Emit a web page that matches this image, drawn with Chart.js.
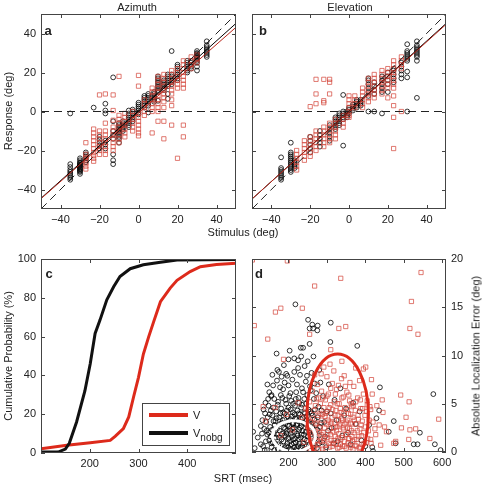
<!DOCTYPE html>
<html>
<head>
<meta charset="utf-8">
<style>
  body { margin: 0; background: #fff; }
  #fig { position: relative; width: 483px; height: 484px; font-family: "Liberation Sans", Arial, sans-serif; font-size: 11px; color: #222; overflow: hidden; }
  #fig canvas { position: absolute; }
  .lbl { position: absolute; white-space: nowrap; line-height: 1; transform: translate(-50%, -50%); }
  .rot { transform: translate(-50%, -50%) rotate(-90deg); }
  .tag { position: absolute; font-weight: bold; font-size: 13px; line-height: 1; transform: translate(-50%, -50%); }
  #legend { position: absolute; left: 142px; top: 403px; width: 86px; height: 41px; border: 1px solid #444; background: #fff; }
  #legend .bar { position: absolute; left: 6px; width: 39px; height: 4px; }
  #legend .txt { position: absolute; left: 50px; font-size: 11px; line-height: 1; }
  #legend sub { font-size: 10px; vertical-align: -4px; line-height: 0; }
</style>
</head>
<body>
<div id="fig">
  <canvas id="az" width="240" height="228" style="left:0;top:0"></canvas>
  <canvas id="el" width="243" height="228" style="left:240px;top:0"></canvas>
  <canvas id="cdf" width="240" height="244" style="left:0;top:240px"></canvas>
  <canvas id="err" width="243" height="244" style="left:240px;top:240px"></canvas>

  <div class="lbl" style="left:137px;top:7px">Azimuth</div>
  <div class="lbl" style="left:350px;top:7px">Elevation</div>
  <div class="lbl" style="left:243px;top:232px">Stimulus (deg)</div>
  <div class="lbl rot" style="left:8px;top:111px">Response (deg)</div>
  <div class="lbl rot" style="left:8px;top:356px">Cumulative Probability (%)</div>
  <div class="lbl" style="left:243px;top:478px">SRT (msec)</div>
  <div class="lbl rot" style="left:476px;top:356px">Absolute Localization Error (deg)</div>

  <div class="tag" style="left:48px;top:30px">a</div>
  <div class="tag" style="left:263px;top:30px">b</div>
  <div class="tag" style="left:49px;top:273px">c</div>
  <div class="tag" style="left:259px;top:273px">d</div>

  <div id="legend">
    <div class="bar" style="top:9px;background:#dd2a1b"></div>
    <div class="txt" style="top:6px">V</div>
    <div class="bar" style="top:27px;background:#111"></div>
    <div class="txt" style="top:24px">V<sub>nobg</sub></div>
  </div>
</div>

<script src="https://cdn.jsdelivr.net/npm/chart.js"></script>
<script>
// ---- data ----
const STIM_RANGE = [-50, 50];
const STIM_TICKS = [-40, -20, 0, 20, 40];

// azimuth, black circles (V nobg): stimulus positions and responses at each
const AZ_BLACK_STIM = [-35, -30, -27, -23, -20, -17, -13, -10, -8, -5, -3, 0, 3, 5, 8, 10, 13, 15, 17, 20, 25, 27, 30, 35];
const AZ_BLACK_RESP = [
  [-1, -27, -28.5, -30, -31, -32, -33, -34, -35],
  [-24, -25, -26, -26.5, -27, -27.5, -28, -28.5, -29, -29.5, -30, -30.5, -31, -32],
  [-21, -22, -23, -24, -25, -26],
  [2],
  [-13, -14.5, -16, -17.5, -19],
  [4, 0.5, -1, -15, -17, -19],
  [17.5, -5, -10, -12, -14, -22, -25, -27],
  [-6, -7, -8, -9, -10, -11, -12, -13, -14, -16],
  [-5, -6, -7, -8, -9, -10],
  [0.5, -1, -2, -3, -4, -5, -6, -7, -8],
  [1, 0, -1, -2, -3, -4, -5],
  [4.5, 3.5, 2.5, 1.5, 0.5, -0.5, -1.5],
  [2, 3, 4, 5, 6, 7, 8],
  [-0.5, 3, 4, 5, 6, 7, 8, 9],
  [5, 6, 7, 8, 9, 10],
  [5.5, 10, 11, 12, 13, 14, 15, 16, 17, 18],
  [11, 12, 13, 14, 15, 16],
  [6.5, 9, 13, 14, 15, 16, 17, 18, 19],
  [31, 14, 15, 16, 17, 18, 19],
  [16, 17, 18, 19, 20, 21, 22, 23, 24],
  [20, 21, 22, 23, 24, 25, 26],
  [22, 23, 24, 25, 26],
  [21, 23, 25, 26, 27, 27.5, 28, 28.5, 29, 29.5, 30, 31],
  [28, 29, 30, 31, 32, 33, 34, 36]
];
// azimuth, red squares (V)
const AZ_RED_STIM = [-27, -23, -20, -17, -13, -10, -7, -3, 0, 3, 7, 10, 13, 17, 20, 23, 27, 30];
const AZ_RED_RESP = [
  [-16, -22, -23.5, -25, -26.5, -28, -29.5],
  [-9, -11, -13, -15, -17, -19, -21, -22.5, -24, -25.5],
  [8.5, -10, -12, -14, -16, -18, -20, -22],
  [9, -6, -10, -12, -14, -16, -18, -20, -22],
  [8.5, 0.5, -4.5, -8, -10, -12, -14, -16, -18, -20],
  [18, -2, -4, -6, -8, -10, -12, -14, -16],
  [-1, -3, -5, -7, -9, -11, -13],
  [0, -2, -4, -6, -8, -10],
  [18.5, 13, -1, -3, -5, -7, -9, -11, -12.5],
  [-2, 0, 2, 4, 6],
  [-11, 0, 2, 4, 6, 8, 10, 12],
  [-5, 0, 2, 4, 6, 8, 10, 12, 14, 16, 18],
  [-14, -5, 2, 5, 7, 9, 11, 13, 15, 17, 19],
  [-7, 3, 6, 9, 11, 13, 15, 17, 19, 21],
  [-24, 12, 14, 16, 18, 20, 22],
  [-13, -7, 12, 14, 16, 18, 20, 22, 24, 26],
  [22, 24, 26, 28],
  [25, 27, 29]
];
const AZ_FIT_BLACK = [0.897, 0.35];   // slope, intercept
const AZ_FIT_RED = [0.879, -0.75];

// elevation
const EL_BLACK_STIM = [-35, -30, -28, -20, -15, -10, -7, -5, -3, -1, 0, 2, 4, 6, 10, 13, 17, 20, 23, 27, 30, 35];
const EL_BLACK_RESP = [
  [-23.5, -29, -30, -31, -32, -33, -34, -35],
  [-16, -21, -22, -23, -24, -25, -26, -27, -28, -29, -30, -31],
  [-25, -26, -27, -28, -29],
  [-13, -15, -17, -19, -21],
  [-10, -12, -14, -16, -18],
  [-7, -9, -11, -13, -15],
  [-3, -4, -5, -6, -7, -8, -9],
  [-1, -2, -3, -4, -5, -6, -7],
  [8.5, -17.5, 0, -1, -2, -3, -4],
  [0, -1, -2, -3],
  [-1, 0, 1, 2],
  [0.5, 1.5, 2.5, 3.5],
  [2, 3, 4, 5, 6],
  [3, 4, 5, 6],
  [0, 8, 10, 12, 14, 16, 17],
  [0, 9, 11, 13, 15],
  [-1, 10, 12, 14, 16, 18],
  [10, 14, 16, 18, 20],
  [15, 17, 19, 21, 22],
  [17, 19, 21, 23, 25],
  [0, 17.5, 20.5, 26, 27, 28, 29, 30, 31, 34.5],
  [7, 26, 28, 29, 30, 31, 32, 33, 34, 36]
];
const EL_RED_STIM = [-27, -23, -20, -17, -13, -10, -7, -3, 0, 3, 7, 10, 13, 17, 20, 23, 27];
const EL_RED_RESP = [
  [-20, -22, -24, -26, -28, -30],
  [-15, -17, -19, -21, -23, -25],
  [2.5, -13, -15, -17, -19, -21, -23],
  [16.5, 9, 4, -10, -12, -14, -16, -18, -20],
  [16.5, 5.5, 4.5, -8, -10, -12, -14, -16, -18],
  [16.5, 15, 9, -6, -8, -10, -12, -14, -16],
  [-4, -6, -8, -10, -12, -14],
  [-2, -4, -6, -8],
  [8, 6, 4, 2, 0, -2, -3],
  [2, 4, 6, 8],
  [2, 4, 6, 8, 10, 12],
  [5, 7, 9, 11, 13, 15, 17],
  [7, 9, 11, 13, 15, 17, 19],
  [9, 11, 13, 15, 17, 19, 21],
  [7, 12, 14, 16, 18, 20, 22],
  [-19, -3, 3, 8, 12, 14, 16, 18, 20, 22, 24, 26],
  [0, 22, 24, 26, 28]
];
const EL_FIT_BLACK = [0.9, 0.1];
const EL_FIT_RED = [0.895, -0.1];

// c: cumulative SRT distributions
const SRT_V = [100, 153, 201, 242, 252, 269, 280, 290, 300, 310, 321, 331, 345, 365, 379, 406, 427, 460, 500];
const CUM_V = [2.2, 4, 5.3, 6.5, 8.6, 12.6, 18.6, 29, 39, 51, 60, 67.6, 78, 85, 89, 93.5, 96, 97.2, 97.8];
const SRT_NOBG = [100, 135, 150, 158, 173, 190, 201, 211, 221, 235, 249, 262, 283, 310, 345, 379, 500];
const CUM_NOBG = [0.5, 0.5, 2, 5, 16, 32, 46, 61.6, 68.5, 79, 85.7, 91, 95, 97, 98.3, 99.5, 99.8];
const CDF_X_TICKS = [200, 300, 400];
const CDF_Y_TICKS = [0, 20, 40, 60, 80, 100];

// d: SRT vs absolute localization error, [srt, error]
const ERR_NOBG = [
  [218,15.3],[251,13.7],[262,13.2],[264,12.8],[310,13.4],[275,12.6],[276,13.1],[255,12.8],[232,10.8],[238,10.8],[255,11.2],[309,11.4],
  [169,10.2],[215,9.7],[242,8.9],[182,7.8],[197,7.9],[156,5.9],[128,2.7],[108,2.1],[379,11],[438,6.7],[436,4.3],[474,3.2],
  [577,6],[542,2],[581,0.8],[596,0.2],[526,0.8],[536,0.8],[461,2.1],[479,0.9],[418,0.5],[420,0.1],[429,3.5],[225,8.7],[194,8.1],[171,8.5],
  [135,4.4],[142,3.1],[148,4.8],[150,1.2],[152,2.6],[156,0.5],[158,3.8],[160,4.6],[162,1.9],[165,0.9],[166,3.2],[168,4.2],
  [170,2.4],[172,0.3],[173,5.2],[175,1.5],[176,3.6],[178,2.9],[180,0.7],[181,4.5],[183,1.9],[184,5.6],[185,3.3],[187,1.1],
  [188,2.5],[190,0.4],[190,4.0],[192,3.0],[193,1.6],[194,5.0],[196,2.2],[197,0.9],[198,3.7],[200,1.4],[200,4.6],[202,2.7],
  [203,0.3],[205,3.4],[206,1.9],[207,5.3],[208,0.8],[210,2.4],[211,4.1],[212,1.3],[213,3.0],[215,0.5],[216,2.1],[217,4.8],
  [218,3.5],[219,1.0],[220,2.8],[222,0.4],[223,4.3],[224,1.7],[225,3.2],[226,5.6],[228,2.3],[229,0.9],[230,3.9],[232,1.5],
  [233,4.6],[234,2.7],[236,0.6],[237,3.5],[238,6.2],[240,1.8],[241,4.1],[243,2.9],[244,0.3],[246,5.0],[247,3.3],[248,1.2],
  [250,2.4],[252,4.4],[253,0.7],[255,3.1],[256,6.8],[258,1.8],[260,4.0],[262,2.6],[264,0.5],[266,5.5],[268,3.4],[270,1.4],
  [272,6.1],[275,2.3],[278,4.7],[280,0.9],[283,7.2],[285,3.0],[290,5.8],[295,1.6],[300,4.2],[305,7.0],[312,2.5],[320,5.4],
  [328,1.1],[335,6.6],[345,3.8],[355,2.0],[368,5.1],[390,1.2],[400,0.6],[410,2.8],
  [112,0.4],[120,1.5],[128,0.8],[132,3.3],[138,0.2],[145,1.8],[140,5.1],[155,5.8],[160,6.9],[170,7.4],[186,6.5],[200,6.9],
  [210,7.5],[220,6.2],[230,8.0],[245,7.3],[250,9.4],[260,8.2],[265,9.9],[225,9.5],[200,9.6],[175,8.3],
  [131,1.9],[134,0.6],[137,2.4],[139,4.0],[141,1.1],[143,2.2],[144,0.2],[146,3.6],[147,5.5],[149,2.0],[151,3.9],[153,1.6],
  [154,4.3],[155,0.9],[157,2.3],[159,1.0],[161,3.2],[163,0.2],[164,2.8],[167,1.5],[169,3.5],[171,1.8],[172,4.9],[174,0.8],
  [177,2.2],[179,4.0],[180,5.9],[182,1.3],[183,3.0],[186,0.2],[186,4.1],[189,1.7],[189,3.4],[191,2.4],[192,5.4],[194,0.6],
  [195,1.9],[196,4.3],[198,2.8],[199,0.5],[201,3.2],[202,5.8],[204,1.1],[204,2.2],[206,4.4],[207,0.3],[209,1.6],[209,3.7],
  [211,2.9],[212,5.0],[214,0.9],[214,2.5],[216,3.9],[217,1.4],[219,5.5],[220,0.2],[221,3.4],[222,1.9],[223,2.9],[225,0.6],
  [226,4.0],[227,1.3],[228,5.1],[230,2.5],[231,0.4],[232,3.4],[234,1.8],[235,4.9],[236,2.2],[238,0.9],[239,3.0],[241,5.5],
  [242,1.3],[243,4.0],[245,2.1],[246,0.6],[248,3.7],[249,5.9],[251,1.6],[252,3.0],[254,2.0],[256,0.2],[257,4.2],[259,2.9],
  [261,1.0],[263,3.8],[265,2.0],[267,0.9],[269,4.4],[271,2.8],[274,0.4],[276,3.6],[279,1.7],[282,2.6],[286,4.3],[288,1.0],
  [293,3.1],[298,0.5],[303,2.2],[310,4.0],[318,0.9],[325,3.3],[340,1.7],[350,4.5],[362,0.8],[375,2.9],[385,4.2],
  [145,7.0],[150,6.2],[163,5.5],[178,6.7],[190,7.2],[205,6.1],[215,8.3],[222,7.0],[235,6.6],[248,7.9],[258,6.4],[268,7.1],
  [280,8.5],[158,8.0],[188,9.0],[233,9.9],[203,10.5]
];
const ERR_V = [
  [197,19.8],[106,19.9],[336,18],[268,17.2],[180,14.9],[166,14.5],[236,14.9],[111,13.1],[331,12.8],[349,13],[255,12.2],[146,11.7],
  [310,10.6],[187,9.6],[339,9.4],[134,4.7],[545,18.6],[520,15.6],[516,12.8],[537,12.2],[401,8.8],[416,7.5],[492,5.9],[514,5.2],
  [591,3.4],[506,3.6],[446,4.1],[450,2.6],[455,2.1],[474,0.9],[494,2.5],[516,2.3],[531,2.4],[513,1.3],[568,1.4],[479,1.1],
  [444,5.4],[418,6],[405,4.9],[414,4.4],[436,2.8],[427,1.8],[414,1.3],[440,0.7],
  [258,1.2],[262,3.5],[265,0.4],[267,2.2],[270,4.8],[272,1.5],[274,3.0],[276,0.8],[278,5.6],[280,2.5],[282,4.0],[284,1.1],
  [286,6.3],[287,3.3],[289,0.3],[290,2.0],[292,4.6],[293,1.4],[295,3.7],[296,5.4],[298,0.7],[299,2.9],[301,4.2],[302,1.8],
  [304,6.0],[305,3.1],[307,0.5],[308,2.4],[310,4.9],[311,1.2],[313,3.6],[314,7.1],[316,2.1],[317,0.9],[319,5.2],[320,3.0],
  [322,1.6],[323,4.3],[325,6.5],[326,2.6],[328,0.4],[329,3.8],[331,1.9],[332,5.0],[334,2.9],[335,0.8],[337,4.1],[338,7.6],
  [340,1.5],[341,3.3],[343,5.7],[344,2.3],[346,0.6],[347,4.6],[349,1.8],[350,3.1],[352,6.2],[353,2.5],[355,0.9],[356,4.0],
  [358,1.4],[359,5.3],[361,3.0],[362,0.5],[364,2.2],[365,4.7],[367,1.1],[368,3.6],[370,6.8],[371,2.0],[373,0.7],[374,4.3],
  [376,2.9],[378,1.3],[380,5.6],[382,3.4],[384,0.4],[386,2.4],[388,4.5],[390,1.7],[392,3.2],[395,6.0],[397,0.9],[400,2.6],
  [403,4.2],[406,1.4],[410,3.3],[275,7.0],[285,8.1],[300,7.8],[318,8.4],[330,6.9],[345,7.9],[360,7.2],[375,8.7],[385,7.4],
  [395,8.6],[262,6.3],[268,8.0],[292,8.8],[308,9.1],[250,2.6],[245,4.5],[240,1.0],[255,5.2],[247,0.3],[235,3.6],[225,5.1],
  [210,2.3],[195,3.9],[180,1.7],[165,4.6],[140,3.2],
  [257,3.2],[260,0.6],[263,2.0],[266,4.3],[269,0.7],[271,2.9],[273,5.5],[275,1.2],[277,3.8],[279,0.3],[281,2.0],[283,5.0],
  [285,1.8],[288,3.9],[289,5.6],[291,1.2],[294,2.5],[296,0.3],[297,4.0],[300,1.5],[300,5.8],[303,3.3],[305,0.9],[306,4.6],
  [309,1.8],[310,6.6],[312,3.0],[314,0.6],[315,4.4],[318,2.5],[319,1.2],[321,3.8],[322,6.0],[324,0.8],[325,2.2],[327,5.0],
  [329,1.4],[330,3.3],[332,0.5],[333,2.7],[335,4.5],[336,1.3],[338,3.5],[339,5.6],[341,0.6],[342,2.5],[344,4.0],[345,1.1],
  [347,2.9],[348,6.8],[350,0.4],[351,1.8],[353,4.4],[354,3.3],[356,1.4],[357,5.9],[359,2.4],[360,0.7],[362,3.9],[363,5.0],
  [365,1.6],[366,2.9],[368,0.3],[369,4.8],[371,3.3],[372,1.3],[375,5.2],[377,0.6],[379,2.2],[381,3.8],[383,1.6],[386,0.5],
  [387,5.4],[389,2.8],[391,0.8],[393,4.5],[396,2.0],[399,3.8],[402,1.0],[405,5.3],[408,2.2],[412,4.7],[415,0.9],[420,3.1],
  [425,2.4],[430,4.8]
];
// ellipses: centre srt, centre error, half-width (msec), half-height (deg)
const ELLIPSE_V = [328, 3.9, 80, 6.25];
const ELLIPSE_NOBG = [214, 1.65, 56, 1.6];
const ERR_X_TICKS = [200, 300, 400, 500, 600];
const ERR_Y_TICKS = [0, 5, 10, 15, 20];

// ---- helpers ----
Chart.defaults.font.family = '"Liberation Sans", Arial, sans-serif';
Chart.defaults.font.size = 11;
Chart.defaults.color = '#222';

const RED = '#dd2a1b';
const RED_PT = 'rgba(212, 70, 58, 0.9)';

function columns(stims, resps) {
  return stims.flatMap((s, i) => resps[i].map(r => ({ x: s, y: r })));
}
function pairs(xs, ys) {
  return xs.map((x, i) => ({ x: x, y: ys[i] }));
}
const minus = v => String(v).replace('-', '\u2212');
const fixTicks = list => scale => { scale.ticks = list.map(v => ({ value: v })); };
const noGrid = { display: false, drawTicks: false };

// matlab-like box with inward ticks on all four sides
const boxPlugin = {
  id: 'box',
  afterDraw(chart) {
    const { ctx, chartArea: a, scales } = chart;
    const x = scales.x, y = scales.y;
    const L = 4;
    ctx.save();
    ctx.strokeStyle = '#444';
    ctx.lineWidth = 1;
    ctx.strokeRect(Math.round(a.left) + 0.5, Math.round(a.top) + 0.5, Math.round(a.right - a.left) - 1, Math.round(a.bottom - a.top) - 1);
    ctx.beginPath();
    x.ticks.forEach(t => {
      const px = Math.round(x.getPixelForValue(t.value)) + 0.5;
      ctx.moveTo(px, a.bottom); ctx.lineTo(px, a.bottom - L);
      ctx.moveTo(px, a.top); ctx.lineTo(px, a.top + L);
    });
    y.ticks.forEach(t => {
      const py = Math.round(y.getPixelForValue(t.value)) + 0.5;
      ctx.moveTo(a.left, py); ctx.lineTo(a.left + L, py);
      ctx.moveTo(a.right, py); ctx.lineTo(a.right - L, py);
    });
    ctx.stroke();
    ctx.restore();
  }
};

// ellipses drawn through the scales of panel d
const ellipsePlugin = {
  id: 'ellipses',
  afterDatasetsDraw(chart) {
    const { ctx, chartArea: a, scales: { x, y } } = chart;
    ctx.save();
    ctx.beginPath();
    ctx.rect(a.left, a.top, a.right - a.left, a.bottom - a.top);
    ctx.clip();
    [[ELLIPSE_NOBG, '#fff'], [ELLIPSE_V, RED]].forEach(([e, col]) => {
      const cx = x.getPixelForValue(e[0]), cy = y.getPixelForValue(e[1]);
      const rx = x.getPixelForValue(e[0] + e[2]) - cx;
      const ry = cy - y.getPixelForValue(e[1] + e[3]);
      ctx.beginPath();
      ctx.ellipse(cx, cy, rx, ry, 0, 0, Math.PI * 2);
      ctx.strokeStyle = col;
      ctx.lineWidth = 3;
      ctx.stroke();
    });
    ctx.restore();
  }
};

function lineSet(pts, color, width, dash, order) {
  return { data: pts, showLine: true, pointRadius: 0, borderColor: color, borderWidth: width, borderDash: dash || [], order: order };
}

function stimChart(id, black, red, fitB, fitR, yLabels) {
  const fit = f => STIM_RANGE.map(v => ({ x: v, y: f[0] * v + f[1] }));
  new Chart(document.getElementById(id), {
    type: 'scatter',
    data: {
      datasets: [
        lineSet(fit(fitR), '#b8261a', 1, null, 0),
        lineSet(fit(fitB), '#000', 1, null, 1),
        lineSet(STIM_RANGE.map(v => ({ x: v, y: v })), '#222', 1, [8, 5], 2),
        lineSet(STIM_RANGE.map(v => ({ x: v, y: 0 })), '#222', 1, [8, 5], 3),
        { data: red, pointStyle: 'rect', pointRadius: 3, backgroundColor: 'rgba(0,0,0,0)', borderColor: RED_PT, borderWidth: 0.8, order: 4 },
        { data: black, pointStyle: 'circle', pointRadius: 2.4, backgroundColor: 'rgba(0,0,0,0)', borderColor: '#000', borderWidth: 0.8, order: 5 }
      ]
    },
    options: {
      responsive: false, animation: false,
      layout: { autoPadding: false, padding: { top: 14, right: yLabels ? 4 : 37, left: yLabels ? 0 : 12, bottom: 0 } },
      plugins: { legend: { display: false }, tooltip: { enabled: false } },
      scales: {
        x: {
          type: 'linear', min: -50, max: 50,
          grid: noGrid, border: { display: false },
          ticks: { padding: 4, callback: minus },
          afterBuildTicks: fixTicks(STIM_TICKS),
          afterFit: s => { s.height = 19; }
        },
        y: {
          type: 'linear', min: -50, max: 50,
          grid: noGrid, border: { display: false },
          ticks: { display: yLabels, padding: 5, callback: minus },
          afterBuildTicks: fixTicks(STIM_TICKS),
          afterFit: s => { s.width = yLabels ? 41 : 0; }
        }
      }
    },
    plugins: [boxPlugin]
  });
}

stimChart('az', columns(AZ_BLACK_STIM, AZ_BLACK_RESP), columns(AZ_RED_STIM, AZ_RED_RESP), AZ_FIT_BLACK, AZ_FIT_RED, true);
stimChart('el', columns(EL_BLACK_STIM, EL_BLACK_RESP), columns(EL_RED_STIM, EL_RED_RESP), EL_FIT_BLACK, EL_FIT_RED, false);

// c: cumulative probability
new Chart(document.getElementById('cdf'), {
  type: 'scatter',
  data: {
    datasets: [
      lineSet(pairs(SRT_NOBG, CUM_NOBG), '#111', 3, null, 0),
      lineSet(pairs(SRT_V, CUM_V), RED, 3, null, 1)
    ]
  },
  options: {
    responsive: false, animation: false,
    layout: { autoPadding: false, padding: { top: 19, right: 4, left: 0, bottom: 0 } },
    plugins: { legend: { display: false }, tooltip: { enabled: false } },
    scales: {
      x: {
        type: 'linear', min: 100, max: 500,
        grid: noGrid, border: { display: false },
        ticks: { padding: 4 },
        afterBuildTicks: fixTicks(CDF_X_TICKS),
        afterFit: s => { s.height = 31; }
      },
      y: {
        type: 'linear', min: 0, max: 100,
        grid: noGrid, border: { display: false },
        ticks: { padding: 5 },
        afterBuildTicks: fixTicks(CDF_Y_TICKS),
        afterFit: s => { s.width = 41; }
      }
    }
  },
  plugins: [boxPlugin]
});

// d: error vs SRT
new Chart(document.getElementById('err'), {
  type: 'scatter',
  data: {
    datasets: [
      { data: ERR_V.map(p => ({ x: p[0], y: p[1] })), pointStyle: 'rect', pointRadius: 3, backgroundColor: 'rgba(0,0,0,0)', borderColor: RED_PT, borderWidth: 0.8, order: 0 },
      { data: ERR_NOBG.map(p => ({ x: p[0], y: p[1] })), pointStyle: 'circle', pointRadius: 2.4, backgroundColor: 'rgba(0,0,0,0)', borderColor: '#000', borderWidth: 0.8, order: 1 }
    ]
  },
  options: {
    responsive: false, animation: false,
    layout: { autoPadding: false, padding: { top: 19, right: 0, left: 12, bottom: 0 } },
    plugins: { legend: { display: false }, tooltip: { enabled: false } },
    scales: {
      x: {
        type: 'linear', min: 105, max: 610,
        grid: noGrid, border: { display: false },
        ticks: { padding: 4 },
        afterBuildTicks: fixTicks(ERR_X_TICKS),
        afterFit: s => { s.height = 32; }
      },
      y: {
        type: 'linear', position: 'right', min: 0, max: 20,
        grid: noGrid, border: { display: false },
        ticks: { padding: 5 },
        afterBuildTicks: fixTicks(ERR_Y_TICKS),
        afterFit: s => { s.width = 37; }
      }
    }
  },
  plugins: [ellipsePlugin, boxPlugin]
});
</script>
</body>
</html>
